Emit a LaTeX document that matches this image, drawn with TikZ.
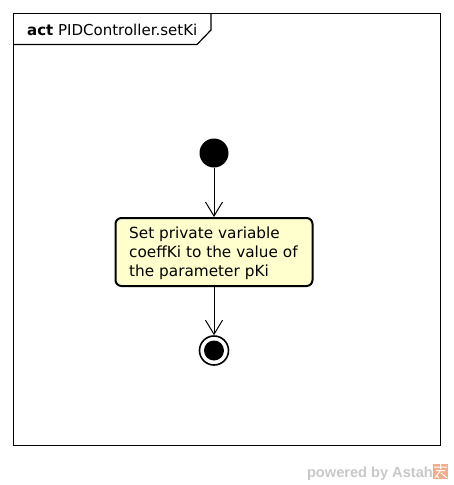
\documentclass[tikz,border=0pt]{standalone}
\usepackage{fontspec}
\setmainfont{DejaVu Sans}
\newfontfamily\astahfont{Liberation Sans}
\usetikzlibrary{arrows.meta}
\definecolor{actfill}{RGB}{255,255,206}
\definecolor{astahgray}{RGB}{200,200,200}
\definecolor{astahorange}{RGB}{243,172,138}
\tikzset{
	actnode/.style={draw, line width=2pt, rounded corners=6pt, fill=actfill, minimum width=197pt, minimum height=68pt, inner sep=0pt},
	startnode/.style={circle, fill=black, minimum size=29pt, inner sep=0pt},
	endnode/.style={circle, draw, line width=1.6pt, fill=white, minimum size=29pt, inner sep=0pt},
	flow/.style={-{Straight Barb[length=14pt, width=17pt, line width=1pt]}, line width=1pt}
}
\begin{document}
\begin{tikzpicture}[x=1pt, y=-1pt, line join=miter, font=\fontsize{15pt}{18pt}\selectfont]
	\useasboundingbox (0,0) rectangle (453,485);
	% frame and title tab
	\draw[line width=1.2pt] (13.5,13.5) rectangle (440.5,445.5);
	\draw[line width=1.2pt] (13.5,44.5) -- (197,44.5) -- (211,30) -- (211,13.5);
	\node[anchor=base west, inner sep=0pt] (title) at (27,35) {\textbf{act} PIDController.setKi};
	% flow
	\node[startnode] (start) at (214,153) {};
	\node[actnode] (setki) at (214,252) {};
	\node[anchor=west, align=left, inner sep=0pt, font=\fontsize{15.3pt}{19pt}\selectfont] (setkitext) at (129,253) {Set private variable\\coeffKi to the value of\\the parameter pKi};
	\node[endnode] (stop) at (214,350.5) {};
	\node[circle, fill=black, minimum size=20pt, inner sep=0pt] (stopdot) at (214,350.5) {};
	\draw[flow] (start) -- (setki);
	\draw[flow] (setki) -- (stop);
	% logo
	\node[anchor=base east, inner sep=0pt, text=astahgray, font=\astahfont\bfseries\fontsize{14.6pt}{16pt}\selectfont] (powered) at (433,477) {powered by Astah};
	\fill[astahorange] (433,464) rectangle (448,479);
	\draw[white, line width=1pt] (434,467) -- (447,467) (440.5,464) -- (440.5,469) (436,470.5) -- (445,470.5) (440,471) -- (435,478) (441,473) -- (447,478) (436,475) -- (439,478);
\end{tikzpicture}
\end{document}
